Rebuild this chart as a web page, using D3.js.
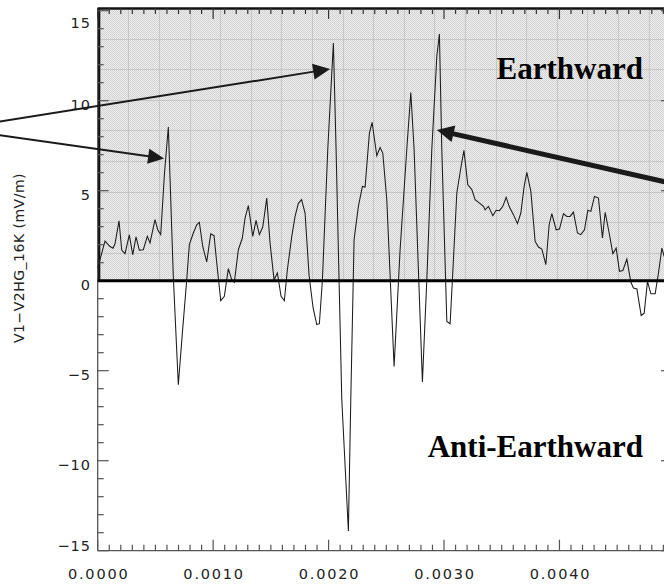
<!DOCTYPE html>
<html>
<head>
<meta charset="utf-8">
<script src="https://cdn.jsdelivr.net/npm/d3@7"></script>
<style>
  html, body { margin: 0; padding: 0; background: #fff; }
  svg { display: block; }
</style>
</head>
<body>
<svg id="chart" width="664" height="584"></svg>
<script>
// Electric field trace, V1-V2 (mV/m) vs time (s)
const timeSec = [
  0, 0.0000633, 0.0001066, 0.0001326, 0.0001499, 0.0001846, 0.0002080, 0.0002366, 0.0002738, 0.0003033,
  0.0003319, 0.0003605, 0.0003951, 0.0004298, 0.0004532, 0.0004965, 0.0005199, 0.0005459, 0.0005789, 0.0006118,
  0.0006551, 0.0006984, 0.0007348, 0.0007712, 0.0007938, 0.0008284, 0.0008579, 0.0008804, 0.0009099, 0.0009445,
  0.0009792, 0.0010078, 0.0010312, 0.0010659, 0.0010971, 0.0011317, 0.0011612, 0.0011837, 0.0012184, 0.0012530,
  0.0012764, 0.0013050, 0.0013432, 0.0013718, 0.0014003, 0.0014298, 0.0014645, 0.0014931, 0.0015277, 0.0015563,
  0.0015884, 0.0016170, 0.0016430, 0.0016811, 0.0017097, 0.0017383, 0.0017660, 0.0017964, 0.0018310, 0.0018657,
  0.0018977, 0.0019203, 0.0019463, 0.0019931, 0.0020416, 0.0020650, 0.0021144, 0.0021716, 0.0021924, 0.0022210,
  0.0022582, 0.0022929, 0.0023163, 0.0023536, 0.0023770, 0.0024177, 0.0024463, 0.0024697, 0.0025043, 0.0025676,
  0.0026196, 0.0026776, 0.0027123, 0.0027409, 0.0028128, 0.0028510, 0.0028943, 0.0029376, 0.0029601, 0.0029809,
  0.0030243, 0.0030529, 0.0030728, 0.0031109, 0.0031456, 0.0031724, 0.0032062, 0.0032409, 0.0032695, 0.0033128,
  0.0033414, 0.0033562, 0.0033848, 0.0034229, 0.0034515, 0.0034801, 0.0035095, 0.0035381, 0.0035667, 0.0036014,
  0.0036361, 0.0036655, 0.0036941, 0.0037175, 0.0037522, 0.0037894, 0.0038180, 0.0038475, 0.0038822, 0.0039108,
  0.0039341, 0.0039714, 0.0040000, 0.0040347, 0.0040641, 0.0040927, 0.0041213, 0.0041560, 0.0041854, 0.0042166,
  0.0042461, 0.0042721, 0.0043033, 0.0043380, 0.0043726, 0.0043960, 0.0044307, 0.0044627, 0.0044913, 0.0045199,
  0.0045494, 0.0045841, 0.0046187, 0.0046412, 0.0046707, 0.0047080, 0.0047340, 0.0047626, 0.0047920, 0.0048293,
  0.0048579, 0.0048874, 0.0049073, 0.0049419
];
const fieldMvPerM = [
  0.7, 2.2, 1.9, 1.8, 2.05, 3.33, 1.7, 1.5, 2.55, 1.44,
  2.43, 1.7, 1.72, 2.46, 2.1, 3.39, 2.83, 2.56, 6.0, 8.54,
  0.2, -5.78, -2.8, 0.05, 2.0, 2.65, 3.1, 3.24, 1.9, 1.04,
  2.6, 2.5, 1.0, -1.11, -0.87, 0.67, 0.05, -0.09, 1.72, 2.37,
  3.48, 4.17, 2.46, 3.35, 2.56, 2.98, 4.59, 2.09, 0.05, 0.43,
  -0.87, -1.11, 0.61, 2.46, 3.57, 4.3, 4.5, 3.76, 0.3, -1.5,
  -2.44, -2.39, 0, 7.3, 13.2, 7.3, -6.6, -13.9, -6.6, 2.28,
  4.13, 5.24, 5.2, 8.2, 8.8, 6.94, 7.4, 7.09, 4.5, -4.76,
  1.72, 7.3, 10.46, 7.3, -5.63, 0.05, 7.3, 12.46, 13.7, 7.3,
  -2.26, -2.39, 0.05, 4.87, 6.26, 7.24, 5.33, 5.06, 4.5, 4.28,
  4.13, 3.94, 4.13, 3.61, 3.91, 3.89, 4.13, 4.63, 4.09, 3.67,
  3.17, 3.76, 5.24, 6.02, 4.96, 2.18, 1.87, 1.76, 0.89, 3.11,
  3.72, 2.83, 2.87, 3.72, 3.57, 3.57, 3.81, 2.65, 2.56, 2.83,
  3.91, 3.85, 4.68, 4.59, 2.37, 3.8, 2.65, 1.5, 1.81, 0.52,
  0.57, 1.2, -0.09, -0.41, -0.46, -1.93, -1.8, -0.04, -0.72, -0.72,
  0.43, 1.81, 1.35, 0.8
];

const yMajorTicks = [-15, -10, -5, 0, 5, 10, 15];
const yTickLabels = ["\u221215", "\u221210", "\u22125", "0", "5", "10", "15"];
const yMinorTicks = d3.range(-15, 16, 1);
const xMajorTicks = [0, 0.001, 0.002, 0.003, 0.004];
const xTickLabels = ["0.0000", "0.0010", "0.0020", "0.0030", "0.0040"];
const xMinorTicks = d3.range(0, 50).map(i => i / 10000);
const yAxisTitle = "V1\u2212V2HG_16K (mV/m)";
const regionLabels = ["Earthward", "Anti-Earthward"];

// Annotation arrows, given as [time, value] start and tip
const arrowStarts = [[-0.001237, 8.44], [-0.001237, 8.44], [0.005218, 5.05]];
const arrowTips   = [[0.002013, 11.76], [0.000575, 6.79], [0.002938, 8.37]];

const svg = d3.select("#chart");
const x = d3.scaleLinear().domain([0, 0.004975]).range([97.7, 672]);
const y = d3.scaleLinear().domain([-15, 15.15]).range([550.7, 8]);

const pL = x(0), pR = x(0.004975), pT = y(15.15), pB = y(-15), zeroY = y(0);

// Graph-paper texture for the positive half
const defs = svg.append("defs");
const pat = defs.append("pattern").attr("id", "paper")
  .attr("patternUnits", "userSpaceOnUse").attr("width", 2).attr("height", 2);
pat.append("rect").attr("width", 2).attr("height", 2).attr("fill", "#ededed");
pat.append("rect").attr("x", 0).attr("y", 0).attr("width", 1).attr("height", 1).attr("fill", "#d0d0d0");
pat.append("rect").attr("x", 1).attr("y", 1).attr("width", 1).attr("height", 1).attr("fill", "#d6d6d6");

svg.append("rect")
  .attr("x", pL).attr("y", pT)
  .attr("width", pR - pL).attr("height", zeroY - pT)
  .attr("fill", "url(#paper)");

const gridStep = 30.6;
const grid = svg.append("g").attr("stroke", "#a8a8a8").attr("stroke-width", 1).attr("opacity", 0.45);
d3.range(pL + gridStep, pR, gridStep).forEach(gx => {
  grid.append("line").attr("x1", Math.round(gx) + 0.5).attr("x2", Math.round(gx) + 0.5)
    .attr("y1", pT).attr("y2", zeroY);
});
d3.range(pT + gridStep, zeroY - 2, gridStep).forEach(gy => {
  grid.append("line").attr("y1", Math.round(gy) + 0.5).attr("y2", Math.round(gy) + 0.5)
    .attr("x1", pL).attr("x2", pR);
});

// Axis frame
const frame = svg.append("g").attr("stroke", "#555").attr("stroke-width", 1.3).attr("fill", "none");
frame.append("line").attr("x1", pL).attr("x2", pL).attr("y1", pT).attr("y2", pB);
frame.append("line").attr("x1", pL).attr("x2", pR).attr("y1", pB).attr("y2", pB);
frame.append("line").attr("x1", pR).attr("x2", pR).attr("y1", pT).attr("y2", pB);

// Border of the shaded half
svg.append("line").attr("x1", pL).attr("x2", pR).attr("y1", pT + 0.5).attr("y2", pT + 0.5)
  .attr("stroke", "#111").attr("stroke-width", 2.6);
svg.append("line").attr("x1", pL + 1.5).attr("x2", pL + 1.5).attr("y1", pT).attr("y2", zeroY)
  .attr("stroke", "#111").attr("stroke-width", 2.2);

// Ticks
const ticks = svg.append("g").attr("stroke", "#555").attr("stroke-width", 1.2);
yMinorTicks.forEach(v => {
  const len = yMajorTicks.includes(v) ? 11 : 6;
  ticks.append("line").attr("x1", pL).attr("x2", pL + len).attr("y1", y(v)).attr("y2", y(v));
  ticks.append("line").attr("x1", pR).attr("x2", pR - len).attr("y1", y(v)).attr("y2", y(v));
});
xMinorTicks.forEach((t, i) => {
  const len = i % 10 === 0 ? 11 : 6;
  ticks.append("line").attr("x1", x(t)).attr("x2", x(t)).attr("y1", pB).attr("y2", pB - len);
  ticks.append("line").attr("x1", x(t)).attr("x2", x(t)).attr("y1", pT).attr("y2", pT + len)
    .attr("stroke", "#333");
});

// Tick labels
const labelFont = "'DejaVu Sans', sans-serif";
yMajorTicks.forEach((v, i) => {
  let by = y(v) + 9;
  if (v === 15) by = y(v) + 17;
  if (v === -15) by = y(v);
  svg.append("text").attr("x", 91).attr("y", by)
    .attr("text-anchor", "end").attr("font-family", labelFont).attr("font-size", 14.5)
    .attr("letter-spacing", 1).attr("fill", "#222").text(yTickLabels[i]);
});
xMajorTicks.forEach((t, i) => {
  svg.append("text").attr("x", x(t) + 1).attr("y", 579)
    .attr("text-anchor", "middle").attr("font-family", labelFont).attr("font-size", 14.5)
    .attr("letter-spacing", 1.8).attr("fill", "#222").text(xTickLabels[i]);
});

svg.append("text")
  .attr("transform", "translate(24,258) rotate(-90)")
  .attr("text-anchor", "middle").attr("font-family", labelFont).attr("font-size", 14)
  .attr("letter-spacing", 0.5).attr("fill", "#222").text(yAxisTitle);

// Field trace
const line = d3.line().x(d => x(d[0])).y(d => y(d[1]));
svg.append("path")
  .datum(timeSec.map((t, i) => [t, fieldMvPerM[i]]))
  .attr("d", line)
  .attr("fill", "none").attr("stroke", "#1c1c1c").attr("stroke-width", 1.05)
  .attr("stroke-linejoin", "miter");

// Zero line
svg.append("line").attr("x1", pL).attr("x2", pR).attr("y1", zeroY).attr("y2", zeroY)
  .attr("stroke", "#000").attr("stroke-width", 3);

// Region labels
const serif = "'Liberation Serif', 'Times New Roman', serif";
svg.append("text").attr("x", 643).attr("y", 79).attr("text-anchor", "end")
  .attr("font-family", serif).attr("font-weight", "bold").attr("font-size", 31)
  .attr("fill", "#000").text(regionLabels[0]);
svg.append("text").attr("x", 643).attr("y", 457).attr("text-anchor", "end")
  .attr("font-family", serif).attr("font-weight", "bold").attr("font-size", 31)
  .attr("fill", "#000").text(regionLabels[1]);

// Arrows
const arrowWidths = [2, 2, 5];
const headLen = [17, 16, 17];
const headHalf = [8, 7.5, 8.5];
arrowStarts.forEach((s, i) => {
  const x0 = x(s[0]), y0 = y(s[1]);
  const x1 = x(arrowTips[i][0]), y1 = y(arrowTips[i][1]);
  const dx = x1 - x0, dy = y1 - y0, L = Math.hypot(dx, dy);
  const ux = dx / L, uy = dy / L;
  const bx = x1 - ux * headLen[i], by = y1 - uy * headLen[i];
  svg.append("line").attr("x1", x0).attr("y1", y0).attr("x2", bx + ux * 2).attr("y2", by + uy * 2)
    .attr("stroke", "#1a1a1a").attr("stroke-width", arrowWidths[i]);
  const px = -uy * headHalf[i], py = ux * headHalf[i];
  svg.append("path")
    .attr("d", `M${x1},${y1}L${bx + px},${by + py}L${bx - px},${by - py}Z`)
    .attr("fill", "#1a1a1a");
});
</script>
</body>
</html>
